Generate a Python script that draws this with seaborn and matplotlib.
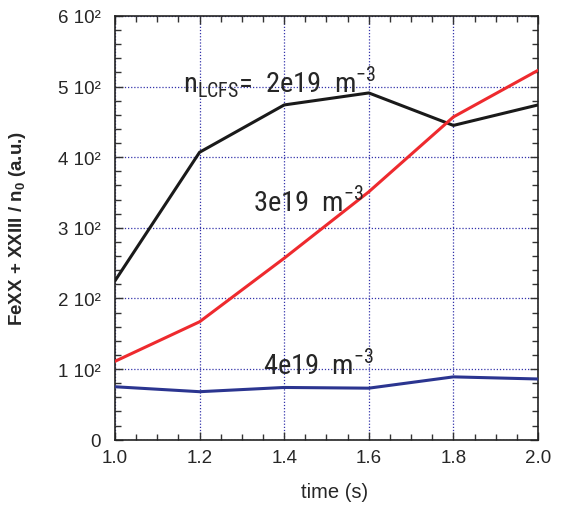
import matplotlib
matplotlib.use("Agg")
import matplotlib.pyplot as plt
import seaborn as sns
import pandas as pd
from matplotlib.ticker import MultipleLocator, FixedLocator

sns.set_style("ticks")
plt.rcParams['font.family'] = ['Liberation Sans', 'DejaVu Sans']
plt.rcParams['mathtext.fontset'] = 'custom'

# === data ===
time = [1.0, 1.2, 1.4, 1.6, 1.8, 2.0]
fe_2e19 = [225, 407, 474, 491, 445, 474]
fe_3e19 = [111, 167, 257, 351, 457, 523]
fe_4e19 = [75, 68, 74, 73, 89, 86]
y_ticks = [0, 100, 200, 300, 400, 500, 600]
y_tick_labels = ['0', '1 10²', '2 10²', '3 10²', '4 10²', '5 10²', '6 10²']

df = pd.DataFrame({
    'time': time * 3,
    'signal': fe_2e19 + fe_3e19 + fe_4e19,
    'density': ['2e19'] * 6 + ['3e19'] * 6 + ['4e19'] * 6,
})
palette = {'2e19': '#1a1a1a', '3e19': '#ee2a2e', '4e19': '#2b3590'}

fig = plt.figure(figsize=(5.65, 5.06), dpi=100)
ax = fig.add_axes([0.2035, 0.129, 0.7487, 0.8375])

sns.lineplot(data=df, x='time', y='signal', hue='density', palette=palette,
             linewidth=2.2, legend=False, ax=ax, zorder=3)

ax.set_xlim(1.0, 2.0)
ax.set_ylim(0, 600)
ax.xaxis.set_major_locator(MultipleLocator(0.2))
ax.xaxis.set_minor_locator(MultipleLocator(0.05))
ax.yaxis.set_major_locator(FixedLocator(y_ticks))
ax.yaxis.set_minor_locator(MultipleLocator(20))
ax.set_yticklabels(y_tick_labels)
ax.set_xticklabels(['%.1f' % v for v in ax.get_xticks()])

ax.tick_params(which='both', direction='in', top=True, right=True,
               color='#333333', labelsize=13.5)
ax.tick_params(axis='x', which='major', length=6, width=1, pad=7)
ax.tick_params(axis='y', which='major', length=6, width=1, pad=10)
ax.tick_params(which='minor', length=4, width=1)
for s in ax.spines.values():
    s.set_linewidth(1.2)
    s.set_color('#222222')

ax.grid(True, which='major', linestyle=(0, (1, 1.5)), color='#3333aa', linewidth=0.9)

ax.set_xlabel('time (s)', fontsize=14.5)
ax.xaxis.set_label_coords(0.52, -0.10)
ax.set_ylabel('FeXX + XXIII / n$_\\mathregular{0}$ (a.u.)', fontsize=13.5, fontweight='bold')
ax.yaxis.set_label_coords(-0.205, 0.50)

narrow = ['Roboto Condensed', 'Liberation Sans', 'DejaVu Sans']
ax.text(1.161, 494, 'n$_\\mathregular{LCFS}$=  2e19  m$^\\mathregular{-3}$', fontsize=20.5,
        family=narrow, stretch='condensed', va='baseline', zorder=4)
ax.text(1.326, 324, '3e19  m$^\\mathregular{-3}$', fontsize=20.5, family=narrow,
        stretch='condensed', va='baseline', zorder=4)
ax.text(1.350, 93, '4e19  m$^\\mathregular{-3}$', fontsize=20.5, family=narrow,
        stretch='condensed', va='baseline', zorder=4)

fig.savefig('out.png', dpi=100)
